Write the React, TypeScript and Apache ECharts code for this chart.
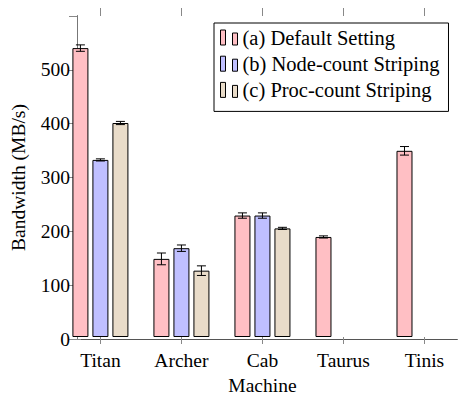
import React, { useEffect, useRef } from "react";
import * as echarts from "echarts";

const categories = ["Titan", "Archer", "Cab", "Taurus", "Tinis"];
const seriesNames = ["(a) Default Setting", "(b) Node-count Striping", "(c) Proc-count Striping"];
const defaultSetting = [540, 146, 227, 187, 348];
const defaultErr = [6, 11, 5, 2, 8];
const nodeCount: (number | null)[] = [331, 166, 227, null, null];
const nodeErr: (number | null)[] = [2, 6, 5, null, null];
const procCount: (number | null)[] = [400, 124, 203, null, null];
const procErr: (number | null)[] = [3, 9, 2, null, null];

const colors = ["#ffbfc4", "#bfbfff", "#e9dcc9"];
const FONT = "Liberation Serif";

export default function App() {
  const ref = useRef<HTMLDivElement>(null);
  useEffect(() => {
    if (!ref.current) return;
    const chart = echarts.init(ref.current, null, { renderer: "svg" });
    const values = [defaultSetting, nodeCount, procCount];
    const errs = [defaultErr, nodeErr, procErr];
    const offsets = [-20, 0, 20];

    const barSeries = values.map((vals, s) => ({
      type: "bar",
      name: seriesNames[s],
      xAxisIndex: 0,
      yAxisIndex: 0,
      barWidth: 16,
      barGap: "25%",
      itemStyle: { color: colors[s], borderColor: "#000", borderWidth: 1 },
      data: vals.map((v) => (v == null ? "-" : v)),
    }));

    const errSeries = values.map((vals, s) => ({
      type: "custom",
      name: "err" + s,
      xAxisIndex: 0,
      yAxisIndex: 0,
      z: 5,
      encode: { x: 0, y: 1 },
      data: vals
        .map((v, i) => (v == null ? null : [i, v, errs[s][i]]))
        .filter((d) => d !== null),
      renderItem: (params: any, api: any) => {
        const x = api.value(0);
        const y = api.value(1);
        const e = api.value(2);
        const top = api.coord([x, y + e]);
        const bot = api.coord([x, y - e]);
        const cx = top[0] + offsets[s];
        const hw = 4.5;
        const st = { stroke: "#000", lineWidth: 1 };
        return {
          type: "group",
          children: [
            { type: "line", shape: { x1: cx, y1: top[1], x2: cx, y2: bot[1] }, style: st },
            { type: "line", shape: { x1: cx - hw, y1: top[1], x2: cx + hw, y2: top[1] }, style: st },
            { type: "line", shape: { x1: cx - hw, y1: bot[1], x2: cx + hw, y2: bot[1] }, style: st },
          ],
        };
      },
    }));

    const tickStyle = { color: "#888", width: 1 };

    chart.setOption({
      animation: false,
      textStyle: { fontFamily: FONT },
      grid: [
        // data grid: category bands of ~81px
        { left: 59.9, right: 1, top: 16, bottom: 61 },
        // frame grid
        { left: 68, right: 9, top: 16, bottom: 61 },
      ],
      legend: {
        data: seriesNames,
        orient: "vertical",
        left: 214,
        top: 23,
        padding: [4, 9, 11, 6],
        itemGap: 5.2,
        itemWidth: 17,
        itemHeight: 15,
        icon: "path://M0,0H5V15H0Z M12,3H17V15H12Z",
        itemStyle: { borderColor: "#000", borderWidth: 1 },
        borderColor: "#000",
        borderWidth: 1,
        backgroundColor: "#fff",
        textStyle: { fontFamily: FONT, fontSize: 20.5, color: "#000", lineHeight: 19 },
      },
      xAxis: [
        {
          type: "category",
          gridIndex: 0,
          position: "bottom",
          data: categories,
          boundaryGap: true,
          name: "Machine",
          nameLocation: "middle",
          nameGap: 38,
          nameTextStyle: { fontFamily: FONT, fontSize: 19.5, color: "#000" },
          axisLine: { show: false },
          axisTick: { show: true, inside: false, length: 7, alignWithLabel: true, interval: 0, lineStyle: tickStyle },
          axisLabel: { margin: 13, fontFamily: FONT, fontSize: 19.5, color: "#000", interval: 0 },
          splitLine: { show: false },
        },
        {
          type: "category",
          gridIndex: 0,
          position: "top",
          data: categories,
          boundaryGap: true,
          axisLine: { show: false },
          axisTick: { show: true, inside: false, length: 8, alignWithLabel: true, interval: 0, lineStyle: tickStyle },
          axisLabel: { show: false },
          splitLine: { show: false },
        },
        {
          type: "value",
          gridIndex: 1,
          position: "bottom",
          min: 0,
          max: 1,
          axisLine: { show: true, lineStyle: { color: "#000", width: 1 } },
          axisTick: { show: false },
          axisLabel: { show: false },
          splitLine: { show: false },
        },
        {
          type: "value",
          gridIndex: 1,
          position: "top",
          min: 0,
          max: 1,
          axisLine: { show: true, lineStyle: { color: "#555", width: 1 } },
          axisTick: { show: false },
          axisLabel: { show: false },
          splitLine: { show: false },
        },
      ],
      yAxis: [
        {
          type: "value",
          gridIndex: 0,
          min: 0,
          max: 600,
          interval: 100,
          show: false,
        },
        {
          type: "value",
          gridIndex: 1,
          position: "left",
          min: 0,
          max: 600,
          interval: 100,
          name: "Bandwidth (MB/s)",
          nameLocation: "middle",
          nameGap: 49,
          nameTextStyle: { fontFamily: FONT, fontSize: 19.5, color: "#000" },
          axisLine: { show: true, lineStyle: { color: "#000", width: 1 } },
          axisTick: { show: true, inside: true, length: 4, lineStyle: tickStyle },
          axisLabel: { margin: 7, fontFamily: FONT, fontSize: 19.5, color: "#000", showMaxLabel: false },
          splitLine: { show: false },
        },
        {
          type: "value",
          gridIndex: 1,
          position: "right",
          min: 0,
          max: 600,
          interval: 100,
          axisLine: { show: true, lineStyle: { color: "#777", width: 1 } },
          axisTick: { show: true, inside: true, length: 8, lineStyle: tickStyle },
          axisLabel: { show: false },
          splitLine: { show: false },
        },
      ],
      series: [...barSeries, ...errSeries],
    });
    return () => chart.dispose();
  }, []);
  return <div ref={ref} style={{ width: 466, height: 400, position: "absolute", left: 0, top: 0 }} />;
}
